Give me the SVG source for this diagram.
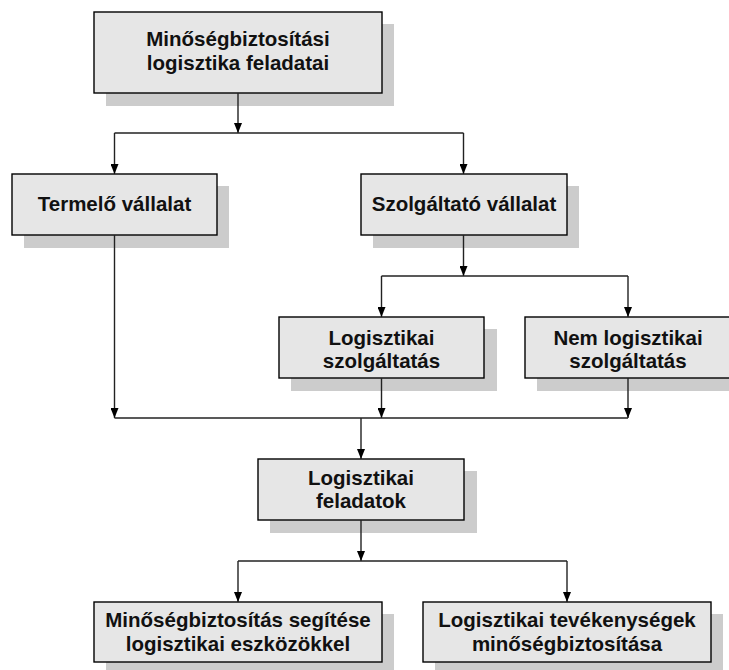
<svg xmlns="http://www.w3.org/2000/svg" width="729" height="670" viewBox="0 0 729 670">
<defs>
<marker id="arr" markerUnits="userSpaceOnUse" markerWidth="10" markerHeight="8" refX="10" refY="4" orient="auto">
<path d="M0,0 L10,4 L0,8 z" fill="#000"/>
</marker>
<style>
.sh{fill:#cccccc;stroke:none}
.bx{fill:#e6e6e6;stroke:#000;stroke-width:1.4}
.t{font-family:"Liberation Sans",Arial,sans-serif;font-weight:bold;font-size:20.5px;fill:#111;text-anchor:middle}
.c{fill:none;stroke:#222;stroke-width:1.4}
.a{marker-end:url(#arr)}
</style>
</defs>
<rect width="729" height="670" fill="#fff"/>
<g id="n1"><rect class="sh" x="106" y="24" width="288" height="82"/><rect class="bx" x="94" y="12" width="288" height="81"/><text class="t" x="238" y="46">Minőségbiztosítási</text><text class="t" x="238" y="70">logisztika feladatai</text></g>
<g id="n2"><rect class="sh" x="24" y="186" width="205" height="62"/><rect class="bx" x="12" y="174" width="205" height="61"/><text class="t" x="114.5" y="211">Termelő vállalat</text></g>
<g id="n3"><rect class="sh" x="373" y="186" width="206" height="62"/><rect class="bx" x="361" y="174" width="206" height="61"/><text class="t" x="464" y="211">Szolgáltató vállalat</text></g>
<g id="n4"><rect class="sh" x="291" y="329" width="206" height="62"/><rect class="bx" x="279" y="317" width="205" height="61"/><text class="t" x="381.5" y="345">Logisztikai</text><text class="t" x="381.5" y="368">szolgáltatás</text></g>
<g id="n5"><rect class="sh" x="537" y="329" width="206" height="62"/><rect class="bx" x="525" y="317" width="206" height="61"/><text class="t" x="628" y="345">Nem logisztikai</text><text class="t" x="628" y="368">szolgáltatás</text></g>
<g id="n6"><rect class="sh" x="270" y="471" width="207" height="62"/><rect class="bx" x="258" y="459" width="206" height="61"/><text class="t" x="361" y="485">Logisztikai</text><text class="t" x="361" y="508">feladatok</text></g>
<g id="n7"><rect class="sh" x="106" y="614" width="288" height="56"/><rect class="bx" x="94" y="602" width="288" height="60"/><text class="t" x="238" y="627">Minőségbiztosítás segítése</text><text class="t" x="238" y="651">logisztikai eszközökkel</text></g>
<g id="n8"><rect class="sh" x="435" y="614" width="288" height="56"/><rect class="bx" x="423" y="602" width="288" height="60"/><text class="t" x="567" y="627">Logisztikai tevékenységek</text><text class="t" x="567" y="651">minőségbiztosítása</text></g>
<g id="connectors">
<path class="c a" d="M238,93 V133"/>
<path class="c" d="M114.5,133 H463.5"/>
<path class="c a" d="M114.5,133 V174"/>
<path class="c a" d="M463.5,133 V174"/>
<path class="c a" d="M463.5,235 V276"/>
<path class="c" d="M381.5,276 H628"/>
<path class="c a" d="M381.5,276 V317"/>
<path class="c a" d="M628,276 V317"/>
<path class="c a" d="M114.5,235 V418"/>
<path class="c a" d="M381.5,378 V418"/>
<path class="c a" d="M628,378 V418"/>
<path class="c" d="M114.5,418 H628"/>
<path class="c a" d="M361,418 V459"/>
<path class="c a" d="M361,520 V561"/>
<path class="c" d="M238,561 H567"/>
<path class="c a" d="M238,561 V602"/>
<path class="c a" d="M567,561 V602"/>
</g>
</svg>
